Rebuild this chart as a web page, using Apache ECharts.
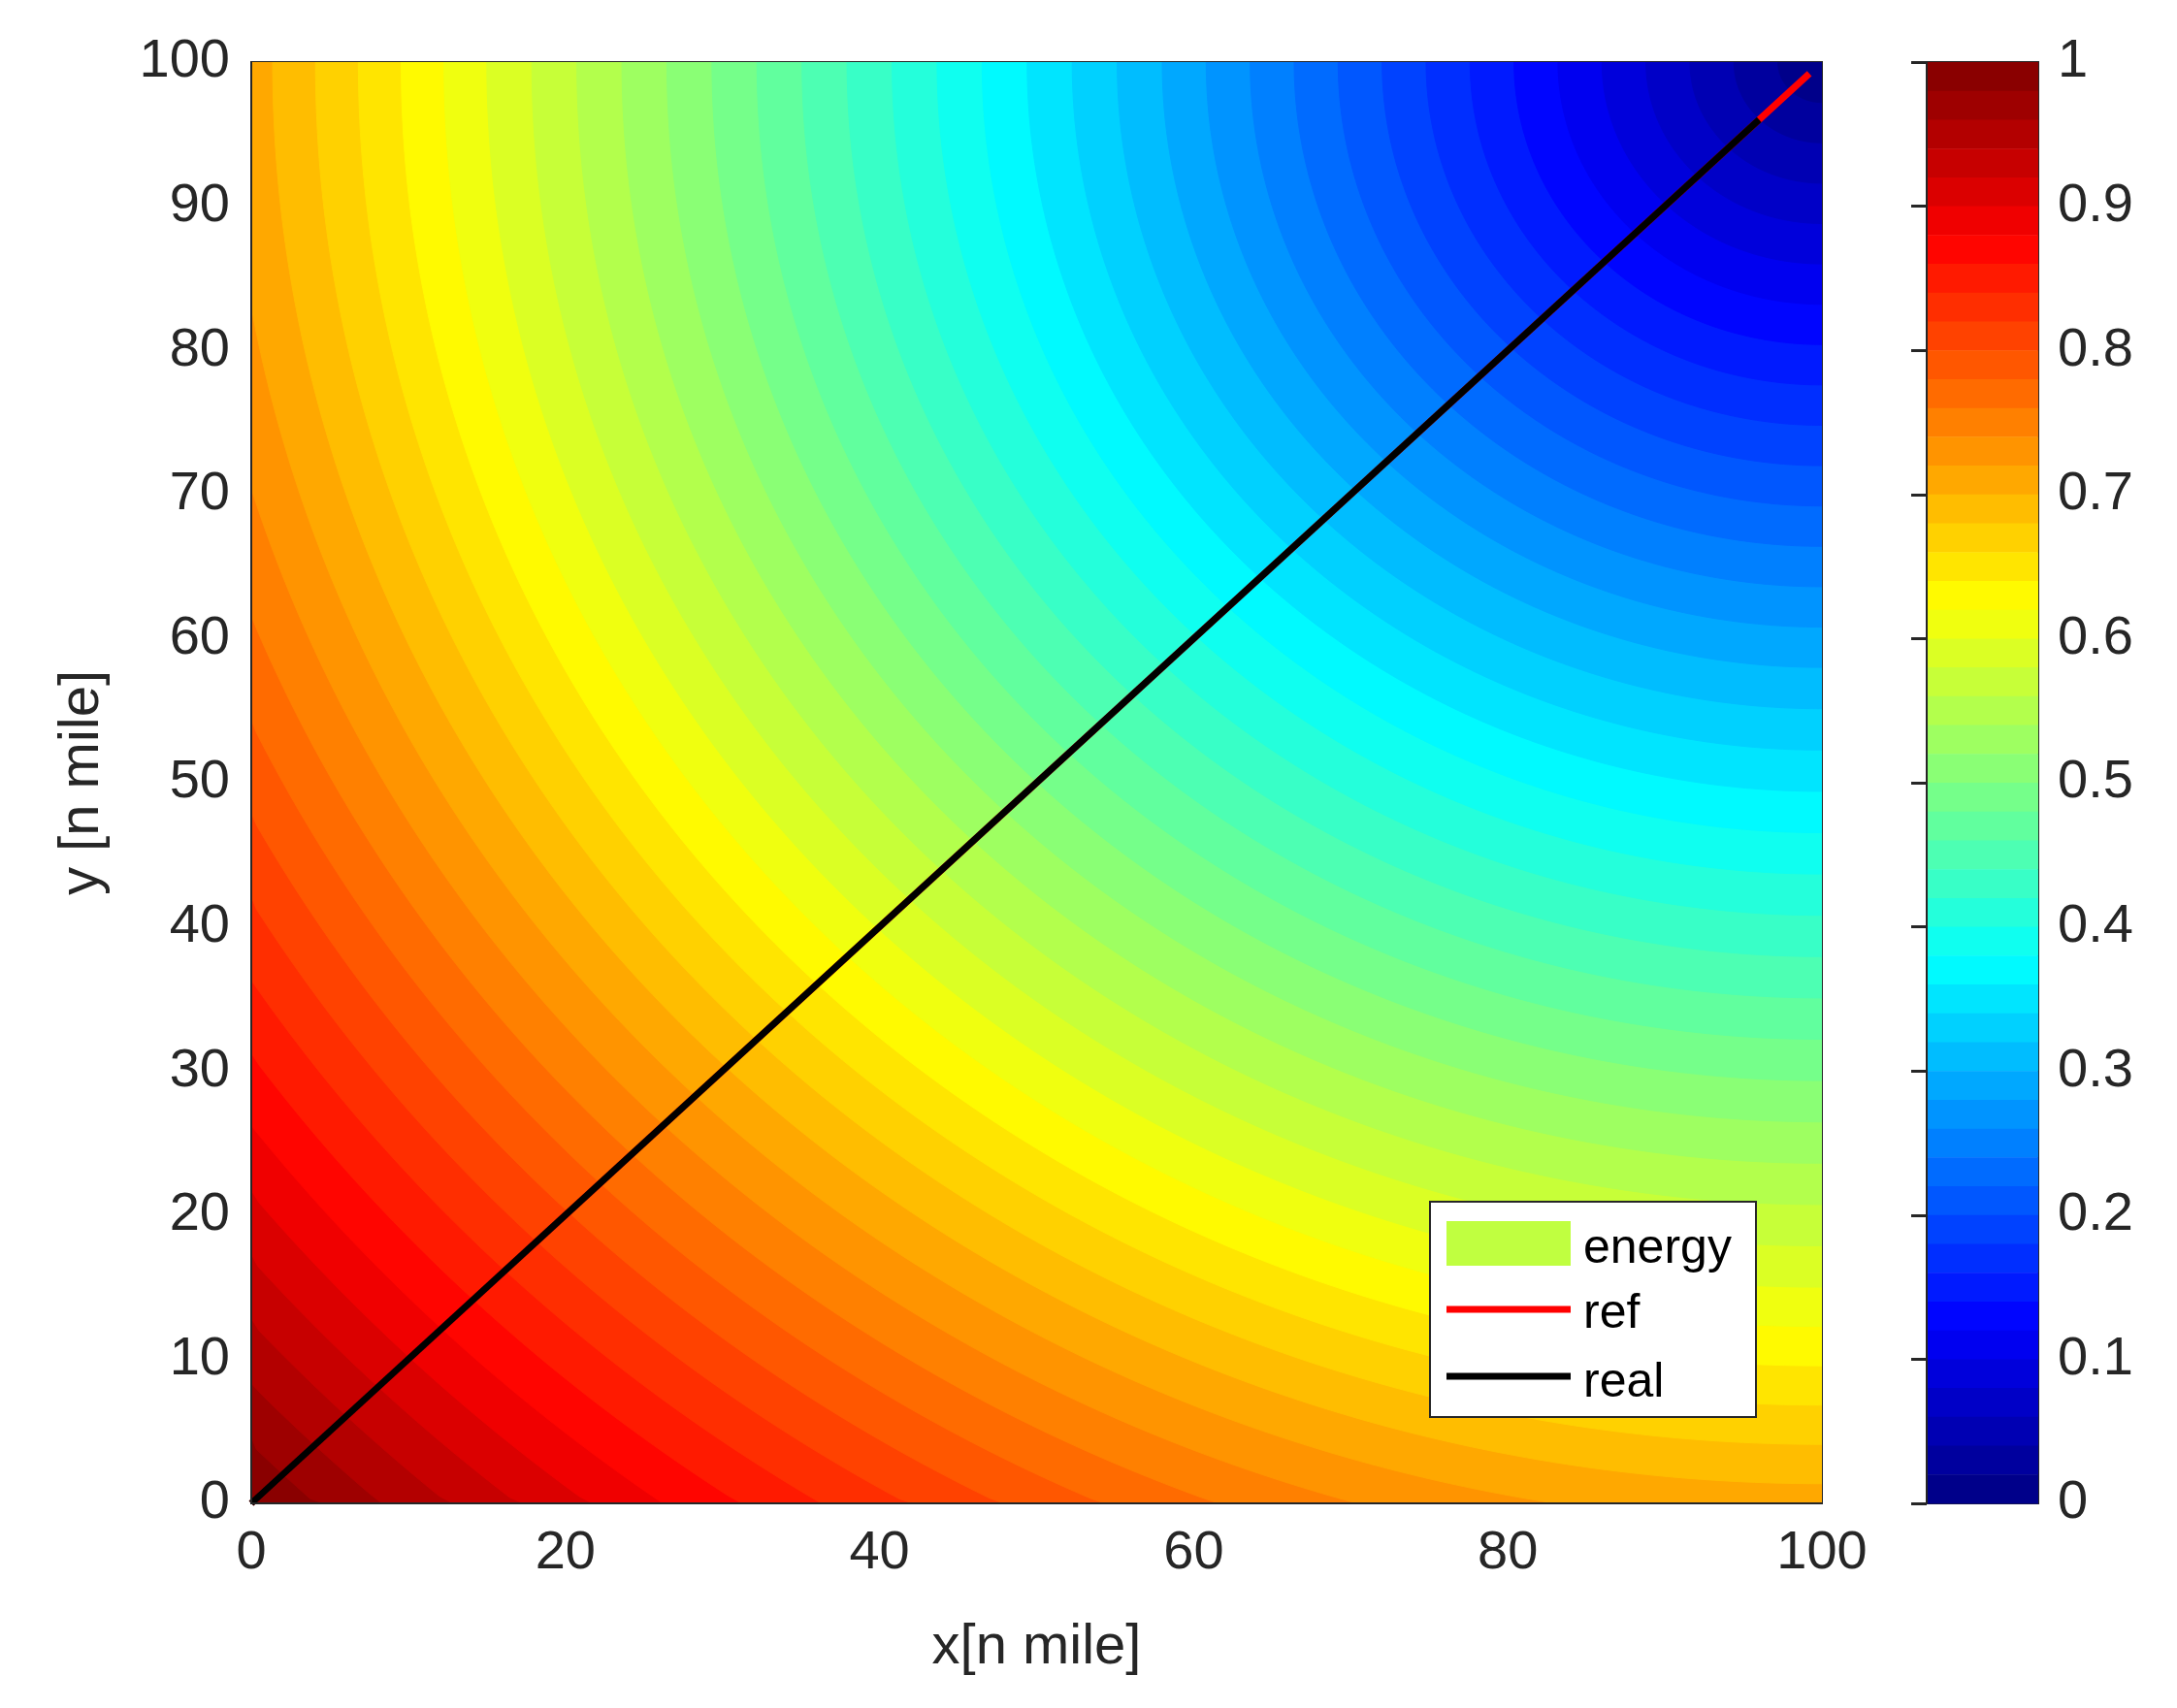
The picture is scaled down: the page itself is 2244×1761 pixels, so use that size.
<!DOCTYPE html>
<html><head><meta charset="utf-8">
<script src="https://cdn.jsdelivr.net/npm/echarts@6/dist/echarts.min.js"></script>
<style>html,body{margin:0;padding:0;background:#fff}#c{width:2244px;height:1761px}</style>
</head><body><div id="c"></div>
<script>
// ---- data ----
const xTicks = [0, 20, 40, 60, 80, 100];
const yTicks = [0, 10, 20, 30, 40, 50, 60, 70, 80, 90, 100];
const cbTicks = [0, 0.1, 0.2, 0.3, 0.4, 0.5, 0.6, 0.7, 0.8, 0.9, 1];
// energy field: circular contours centred at the top-right corner
const energyCenter = [100, 100];
// distance from centre [n mile] -> energy, read along the diagonal / edges
const profileDist = [0, 14, 42, 85, 100, 141.42];
const profileEnergy = [0, 0.1, 0.3, 0.6, 0.71, 1.0];
const contourStep = 0.02; // ~50 filled contour levels
const refPath = [[0, 0], [99.2, 99.2]];
const realPath = [[0, 0], [96, 96]];

function jet(v) {
  const f = t => Math.max(0, Math.min(1, t));
  const r = f(1.5 - Math.abs(4 * v - 3));
  const g = f(1.5 - Math.abs(4 * v - 2));
  const b = f(1.5 - Math.abs(4 * v - 1));
  return 'rgb(' + Math.round(r * 255) + ',' + Math.round(g * 255) + ',' + Math.round(b * 255) + ')';
}
function distForEnergy(e) {
  for (let i = 1; i < profileEnergy.length; i++) {
    if (e <= profileEnergy[i]) {
      const t = (e - profileEnergy[i - 1]) / (profileEnergy[i] - profileEnergy[i - 1]);
      return profileDist[i - 1] + t * (profileDist[i] - profileDist[i - 1]);
    }
  }
  return profileDist[profileDist.length - 1];
}
const nLevels = Math.round(1 / contourStep);
const levels = [];
for (let k = nLevels; k >= 1; k--) levels.push([k * contourStep]);

const TXT = '#262626', FONT = 'Liberation Sans';
const G = { left: 259, top: 64, width: 1619, height: 1486 };
const CB = { left: 1986, top: 64, width: 115, height: 1486 };

const chart = echarts.init(document.getElementById('c'));
chart.setOption({
  animation: false,
  textStyle: { fontFamily: FONT },
  grid: [
    Object.assign({ show: true, borderColor: TXT, borderWidth: 2, backgroundColor: 'transparent' }, G),
    Object.assign({ show: true, borderColor: TXT, borderWidth: 2, backgroundColor: 'transparent' }, CB)
  ],
  xAxis: [
    { gridIndex: 0, type: 'value', min: 0, max: 100, interval: 20, position: 'bottom', z: 10,
      name: 'x[n mile]', nameLocation: 'middle', nameGap: 120,
      nameTextStyle: { fontSize: 58, color: TXT, fontFamily: FONT },
      axisLine: { show: true, lineStyle: { color: TXT, width: 2 } },
      axisTick: { show: false },
      axisLabel: { fontSize: 56, color: TXT, margin: 24, fontFamily: FONT },
      splitLine: { show: false } },
    { gridIndex: 1, type: 'value', min: 0, max: 1, show: false }
  ],
  yAxis: [
    { gridIndex: 0, type: 'value', min: 0, max: 100, interval: 10, z: 10,
      name: 'y [n mile]', nameLocation: 'middle', nameGap: 145, nameRotate: 90,
      nameTextStyle: { fontSize: 58, color: TXT, fontFamily: FONT },
      axisLine: { show: true, lineStyle: { color: TXT, width: 2 } },
      axisTick: { show: false },
      axisLabel: { fontSize: 56, color: TXT, margin: 22, fontFamily: FONT },
      splitLine: { show: false } },
    { gridIndex: 1, type: 'value', min: 0, max: 1, interval: 0.1, position: 'right', z: 10,
      axisLine: { show: true, lineStyle: { color: TXT, width: 2 } },
      axisTick: { show: true, inside: true, length: 16, lineStyle: { color: TXT, width: 3 } },
      axisLabel: { fontSize: 56, color: TXT, margin: 20, fontFamily: FONT,
        formatter: v => cbTicks.some(t => Math.abs(t - v) < 1e-6) ? String(+v.toFixed(1)) : '' },
      splitLine: { show: false } }
  ],
  series: [
    { name: 'energy', type: 'custom', xAxisIndex: 0, yAxisIndex: 0, z: 1, clip: true,
      data: levels,
      renderItem: function (params, api) {
        const e = api.value(0);
        const r = distForEnergy(e);
        const pts = [];
        const N = 180;
        for (let i = 0; i <= N; i++) {
          const th = Math.PI + (Math.PI / 2) * i / N;
          let x = energyCenter[0] + r * Math.cos(th);
          let y = energyCenter[1] + r * Math.sin(th);
          x = Math.max(0, x); y = Math.max(0, y);
          pts.push(api.coord([x, y]));
        }
        pts.push(api.coord(energyCenter));
        return { type: 'polygon', shape: { points: pts },
          style: { fill: jet(e - contourStep / 2), stroke: jet(e - contourStep / 2), lineWidth: 1 } };
      } },
    { name: 'ref', type: 'line', xAxisIndex: 0, yAxisIndex: 0, z: 3, data: refPath,
      symbol: 'none', lineStyle: { color: '#ff0000', width: 7 } },
    { name: 'real', type: 'line', xAxisIndex: 0, yAxisIndex: 0, z: 4, data: realPath,
      symbol: 'none', lineStyle: { color: '#000000', width: 7 } },
    { name: 'colorbar', type: 'custom', xAxisIndex: 1, yAxisIndex: 1, z: 1,
      data: levels,
      renderItem: function (params, api) {
        const e = api.value(0);
        const p0 = api.coord([0, e]);
        const p1 = api.coord([1, e - contourStep]);
        return { type: 'rect', shape: { x: p0[0], y: p0[1], width: p1[0] - p0[0], height: p1[1] - p0[1] + 0.5 },
          style: { fill: jet(e - contourStep / 2) } };
      } }
  ],
  graphic: [
    { type: 'rect', z: 100, shape: { x: 1474, y: 1239, width: 336, height: 222 },
      style: { fill: '#fff', stroke: TXT, lineWidth: 2 } },
    { type: 'rect', z: 101, shape: { x: 1491, y: 1259, width: 128, height: 46 }, style: { fill: '#c0ff40' } },
    { type: 'line', z: 101, shape: { x1: 1491, y1: 1350, x2: 1619, y2: 1350 }, style: { stroke: '#ff0000', lineWidth: 7 } },
    { type: 'line', z: 101, shape: { x1: 1491, y1: 1419, x2: 1619, y2: 1419 }, style: { stroke: '#000', lineWidth: 7 } },
    { type: 'text', z: 101, x: 1632, y: 1288, style: { text: 'energy', font: '50px "Liberation Sans"', fill: '#000', verticalAlign: 'middle' } },
    { type: 'text', z: 101, x: 1632, y: 1355, style: { text: 'ref', font: '50px "Liberation Sans"', fill: '#000', verticalAlign: 'middle' } },
    { type: 'text', z: 101, x: 1632, y: 1426, style: { text: 'real', font: '50px "Liberation Sans"', fill: '#000', verticalAlign: 'middle' } }
  ]
});
</script></body></html>
